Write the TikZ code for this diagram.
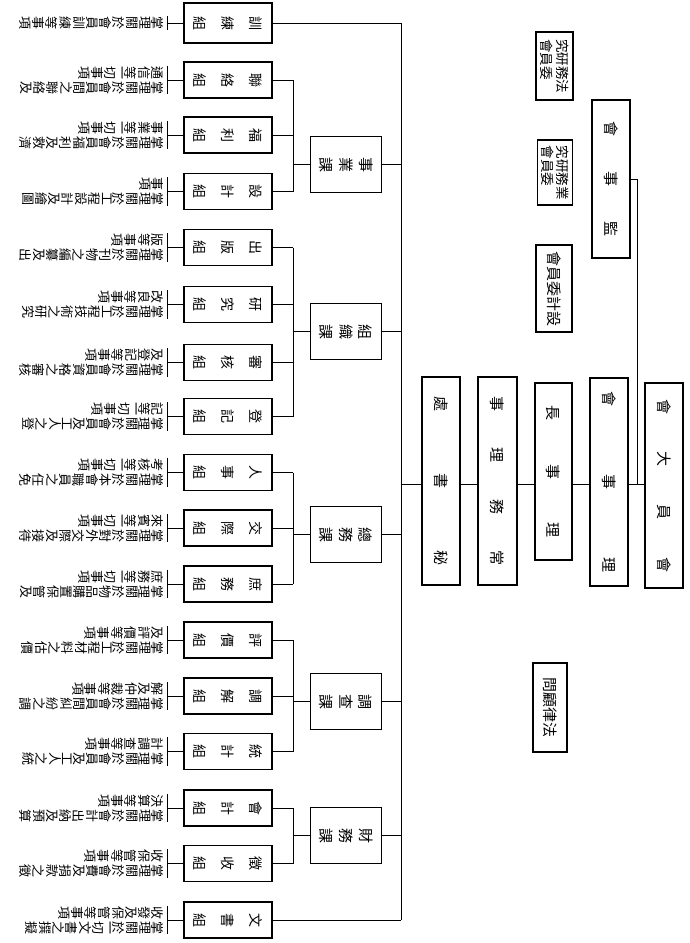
\documentclass[tikz,border=0pt]{standalone}
\usepackage{fontspec}
\newfontfamily\cjk{Noto Sans CJK TC}
\usetikzlibrary{positioning}

\makeatletter
% stack the characters of a string from top to bottom
\newcommand\vt[2][1.5pt]{\vtop{\offinterlineskip\def\vt@sep{#1}\let\vt@kern\relax
  \expandafter\vt@loop#2\relax}}
\def\vt@loop#1{\ifx\relax#1\else\vt@kern\hbox to 1em{\hss#1\hss}%
  \def\vt@kern{\kern\vt@sep}\expandafter\vt@loop\fi}
\makeatother
\newcommand\vcols[2]{\hbox{\vt{#2}\kern2pt\vt{#1}}}

\begin{document}
\begin{tikzpicture}[x=1pt,y=-1pt,
  box/.style={draw,line width=1.2pt,inner sep=0pt},
  turn/.style={rotate=-90,inner sep=0pt,font=\cjk\fontsize{15}{15}\selectfont},
  small/.style={turn,font=\cjk\fontsize{13.5}{15}\selectfont},
  zu/.style={box,minimum width=88pt,minimum height=36pt},
  zufont/.style={turn,font=\cjk\fontsize{14}{14}\selectfont},
  ke/.style={box,minimum width=71pt,minimum height=56pt},
  desc/.style={rotate=-90,anchor=north,inner sep=0pt,font=\cjk\fontsize{13}{13}\selectfont},
  link/.style={line width=1pt}]
\useasboundingbox (0,0) rectangle (689,943);

% upper part
\node[box,minimum width=38pt,minimum height=205pt,
  label={[turn]center:{\makebox[173pt]{會\hfill 大\hfill 員\hfill 會}}}] (dahui) at (664,485.5) {};
\node[box,minimum width=38pt,minimum height=208pt,
  label={[turn]center:{\makebox[181pt]{會\hfill 事\hfill 理}}}] (lishihui) at (609,482) {};
\node[box,minimum width=38pt,minimum height=158pt,
  label={[turn]center:{\makebox[115pt]{會\hfill 事\hfill 監}}}] (jianshi) at (611,179) {};
\node[box,minimum width=37pt,minimum height=177pt,
  label={[turn]center:{\makebox[132pt]{長\hfill 事\hfill 理}}}] (lishizhang) at (553.5,471.5) {};
\node[box,minimum width=39pt,minimum height=208pt,
  label={[turn]center:{\makebox[169pt]{事\hfill 理\hfill 務\hfill 常}}}] (changwu) at (497.5,481) {};
\node[box,minimum width=38pt,minimum height=208pt,
  label={[turn]center:{\makebox[169pt]{處\hfill 書\hfill 秘}}}] (mishu) at (441,481) {};

% committees and adviser
\node[box,minimum width=37pt,minimum height=68pt,
  label={[small]center:{\shortstack[l]{究研務法\\會員委}}}] (wfawu) at (554.5,66) {};
\node[box,minimum width=35pt,minimum height=65pt,
  label={[small]center:{\shortstack[l]{究研務業\\會員委}}}] (wyewu) at (555,172.5) {};
\node[box,minimum width=36pt,minimum height=87pt,label={[turn]center:會員委計設}] (wsheji) at (554,288.5) {};
\node[box,minimum width=34pt,minimum height=89pt,label={[turn]center:問顧律法}] (guwen) at (550,707.5) {};

% sections
\foreach \k/\y/\lab in {shiye/164.5/事業課, zuzhi/331.5/組織課, zongwu/534.5/總務課,
  diaocha/701.5/調查課, caiwu/835.5/財務課}
  \node[ke,label={[turn]center:{\vt[6pt]{\lab}}}] (k\k) at (346,\y) {};

% groups with their duties
\node[zu,minimum height=40pt,label={[zufont]center:{\vt[15pt]{訓練組}}}] (zxunlian) at (228,23) {};
\node[desc] (dxunlian) at (164,23) {\vt{掌理關於會員訓練等事項}};
\foreach \nm/\y/\lab/\da/\db in {
  lianluo/80/聯絡組/掌理關於會員間之聯絡及/通信等一切事項,
  fuli/135/福利組/掌理關於會員福利及救濟/事業等一切事項,
  sheji/191.5/設計組/掌理關於工程設計及繪圖/事項,
  chuban/247.5/出版組/掌理關於刊物之編纂及出/版等事項,
  yanjiu/304.5/研究組/掌理關於工程技術之研究/改良等事項,
  shenhe/362.5/審核組/掌理關於會員資格之審核/及登記等事項,
  dengji/416.5/登記組/掌理關於會員及工人之登/記等一切事項,
  renshi/472.5/人事組/掌理關於本會職員之任免/考核等一切事項,
  jiaoji/528/交際組/掌理關於對外交際及接待/來賓等一切事項,
  shuwu/584/庶務組/掌理關於物品購置保管及/庶務等一切事項,
  pingjia/640/評價組/掌理關於工程材料之估價/及評價等事項,
  tiaojie/696/調解組/掌理關於會員間糾紛之調/解及仲裁等事項,
  tongji/751.5/統計組/掌理關於會員及工人之統/計調查等事項,
  kuaiji/808/會計組/掌理關於會計出納及預算/決算等事項,
  zhengshou/863.5/徵收組/掌理關於會費及捐款之徵/收保管等事項,
  wenshu/920/文書組/掌理關於一切文書之撰擬/收發及保管等事項}
{
  \node[zu,label={[zufont]center:{\vt[15pt]{\lab}}}] (z\nm) at (228,\y) {};
  \node[desc] (d\nm) at (164,\y) {\vcols{\da}{\db}};
}

% connectors
\coordinate (spine) at (637,484);
\coordinate (trunk) at (401,484);
\coordinate (sub) at (293,0);
\draw[link] (jianshi.east) -- (jianshi.east -| spine) -- (spine);
\draw[link] (dahui.west |- spine) -- (lishihui.east |- spine);
\draw[link] (lishihui.west |- spine) -- (lishizhang.east |- spine);
\draw[link] (lishizhang.west |- spine) -- (changwu.east |- spine);
\draw[link] (changwu.west |- spine) -- (mishu.east |- spine);
\draw[link] (mishu.west |- spine) -- (trunk);
\draw[link] (zxunlian.east -| trunk) -- (zwenshu.east -| trunk);
\foreach \nm in {xunlian,wenshu}
  \draw[link] (z\nm.east) -- (z\nm.east -| trunk);
\foreach \k in {shiye,zuzhi,zongwu,diaocha,caiwu}
  \draw[link] (k\k.east) -- (k\k.east -| trunk) (k\k.west) -- (k\k.west -| sub);
\foreach \nm in {lianluo,fuli,sheji,chuban,yanjiu,shenhe,dengji,renshi,jiaoji,shuwu,
  pingjia,tiaojie,tongji,kuaiji,zhengshou}
  \draw[link] (z\nm.east) -- (z\nm.east -| sub);
\foreach \a/\b in {lianluo/sheji,chuban/dengji,renshi/shuwu,pingjia/tongji,kuaiji/zhengshou}
  \draw[link] (z\a.east -| sub) -- (z\b.east -| sub);
\foreach \nm in {xunlian,lianluo,fuli,sheji,chuban,yanjiu,shenhe,dengji,renshi,jiaoji,
  shuwu,pingjia,tiaojie,tongji,kuaiji,zhengshou,wenshu}
  \draw[link] ([xshift=3pt]d\nm.north west) -- ([xshift=3pt]d\nm.north east)
    (z\nm.west) -- ([xshift=3pt]d\nm.north);
\end{tikzpicture}
\end{document}
